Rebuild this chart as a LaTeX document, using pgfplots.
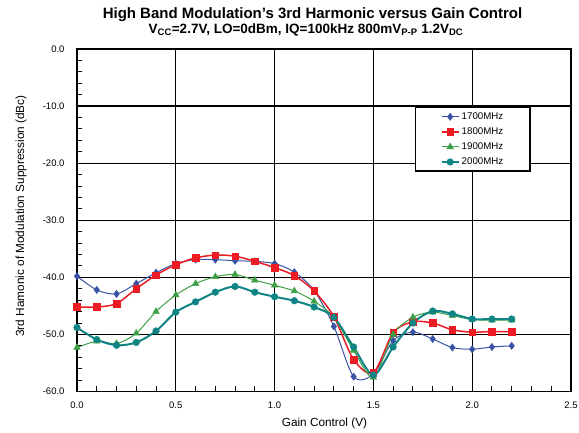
\documentclass[border=0pt]{standalone}
\usepackage{pgfplots}
\pgfplotsset{compat=1.18}
\usepackage{fontspec}
\setmainfont{Liberation Sans}
\definecolor{cblue}{RGB}{57,83,164}
\definecolor{cred}{RGB}{237,28,36}
\definecolor{cgreen}{RGB}{60,160,70}
\definecolor{cteal}{RGB}{16,132,132}
\begin{document}
\begin{tikzpicture}
\useasboundingbox (0pt,0pt) rectangle (579pt,432pt);
\node[font=\fontsize{15}{17}\selectfont\bfseries] at (312.5pt,417pt) {High Band Modulation's 3rd Harmonic versus Gain Control};
\node[font=\fontsize{13.5}{15}\selectfont\bfseries] at (306pt,402.5pt) {V\textsubscript{CC}=2.7V, LO=0dBm, IQ=100kHz 800mV\textsubscript{P-P} 1.2V\textsubscript{DC}};
\node[rotate=90,font=\fontsize{11.8}{13}\selectfont] at (21pt,216pt) {3rd Hamonic of Modulation Suppression (dBc)};
\node[font=\fontsize{11.8}{13}\selectfont] at (324.5pt,9pt) {Gain Control (V)};
\begin{axis}[
  at={(77pt,40.5pt)}, anchor=south west,
  scale only axis, width=494pt, height=342.5pt,
  xmin=0, xmax=2.5, ymin=-60, ymax=0,
  xtick={0,0.5,1.0,1.5,2.0,2.5}, ytick={-60,-50,-40,-30,-20,-10,0},
  xtick pos=bottom, ytick pos=left,
  tick align=inside,
  major tick length=0pt,
  grid=major, major grid style={black, line width=1.3pt},
  axis line style={black, line width=1.8pt},
  /pgf/number format/assume math mode=true,
  /pgf/number format/.cd, fixed, fixed zerofill, precision=1, /pgfplots/.cd,
  ticklabel style={font=\fontsize{9.5}{11}\selectfont},
  yticklabel style={xshift=-9pt},
  xticklabel style={yshift=-7pt},
  legend style={at={(rel axis cs:0.684,0.831)}, anchor=north west, draw=black, line width=1.5pt,
    inner xsep=25pt, inner ysep=3pt, row sep=2.8pt, font=\fontsize{9.7}{11}\selectfont},
  legend cell align=left,
]
% minor tick marks (inside), drawn as pgfplots marks
\addplot[forget plot, only marks, mark=|, mark size=2.5pt, mark options={black, line width=1pt}] coordinates {
(0.1,-59.56) (0.2,-59.56) (0.3,-59.56) (0.4,-59.56) (0.6,-59.56) (0.7,-59.56) (0.8,-59.56) (0.9,-59.56)
(1.1,-59.56) (1.2,-59.56) (1.3,-59.56) (1.4,-59.56) (1.6,-59.56) (1.7,-59.56) (1.8,-59.56) (1.9,-59.56)
(2.1,-59.56) (2.2,-59.56) (2.3,-59.56) (2.4,-59.56)};
\addplot[forget plot, only marks, mark=-, mark size=2.5pt, mark options={black, line width=1pt}] coordinates {
(0.0127,-58) (0.0127,-56) (0.0127,-54) (0.0127,-52) (0.0127,-48) (0.0127,-46) (0.0127,-44) (0.0127,-42)
(0.0127,-38) (0.0127,-36) (0.0127,-34) (0.0127,-32) (0.0127,-28) (0.0127,-26) (0.0127,-24) (0.0127,-22)
(0.0127,-18) (0.0127,-16) (0.0127,-14) (0.0127,-12) (0.0127,-8) (0.0127,-6) (0.0127,-4) (0.0127,-2)};
\addplot[cblue, line width=1pt, smooth, tension=0.5, mark=diamond*, mark size=3.6pt, mark options={solid, fill=cblue, line width=0.5pt}] coordinates {
(0,-39.8) (0.1,-42.2) (0.2,-42.9) (0.3,-41.1) (0.4,-39.2) (0.5,-37.6) (0.6,-36.9) (0.7,-36.9) (0.8,-37.1) (0.9,-37.2) (1.0,-37.6) (1.1,-39.1) (1.2,-42.3) (1.3,-48.6) (1.4,-57.4) (1.5,-56.9) (1.6,-51.1) (1.7,-49.6) (1.8,-50.8) (1.9,-52.3) (2.0,-52.6) (2.1,-52.2) (2.2,-52.0)};
\addlegendentry{1700MHz}
\addplot[cred, line width=1.5pt, smooth, tension=0.5, mark=square*, mark size=3.3pt, mark options={solid, fill=cred, line width=0.5pt}] coordinates {
(0,-45.2) (0.1,-45.2) (0.2,-44.6) (0.3,-42.0) (0.4,-39.6) (0.5,-37.8) (0.6,-36.6) (0.7,-36.1) (0.8,-36.3) (0.9,-37.2) (1.0,-38.3) (1.1,-39.7) (1.2,-42.4) (1.3,-46.9) (1.4,-54.4) (1.5,-56.7) (1.6,-49.7) (1.7,-47.8) (1.8,-48.0) (1.9,-49.2) (2.0,-49.6) (2.1,-49.5) (2.2,-49.5)};
\addlegendentry{1800MHz}
\addplot[cgreen, line width=1pt, smooth, tension=0.5, mark=triangle*, mark size=3.8pt, mark options={solid, fill=cgreen, line width=0.5pt}] coordinates {
(0,-52.3) (0.1,-51.2) (0.2,-51.6) (0.3,-49.8) (0.4,-46.0) (0.5,-43.1) (0.6,-41.1) (0.7,-39.9) (0.8,-39.5) (0.9,-40.5) (1.0,-41.4) (1.1,-42.4) (1.2,-44.2) (1.3,-47.0) (1.4,-52.8) (1.5,-57.5) (1.6,-50.0) (1.7,-47.0) (1.8,-46.1) (1.9,-46.7) (2.0,-47.4) (2.1,-47.5) (2.2,-47.5)};
\addlegendentry{1900MHz}
\addplot[cteal, line width=2pt, smooth, tension=0.5, mark=*, mark size=3.3pt, mark options={solid, fill=cteal, line width=0.5pt}] coordinates {
(0,-48.8) (0.1,-50.9) (0.2,-51.9) (0.3,-51.4) (0.4,-49.4) (0.5,-46.1) (0.6,-44.3) (0.7,-42.6) (0.8,-41.6) (0.9,-42.6) (1.0,-43.4) (1.1,-44.1) (1.2,-45.2) (1.3,-47.0) (1.4,-52.2) (1.5,-57.1) (1.6,-52.2) (1.7,-48.0) (1.8,-45.9) (1.9,-46.4) (2.0,-47.3) (2.1,-47.3) (2.2,-47.3)};
\addlegendentry{2000MHz}
\end{axis}
\end{tikzpicture}
\end{document}
